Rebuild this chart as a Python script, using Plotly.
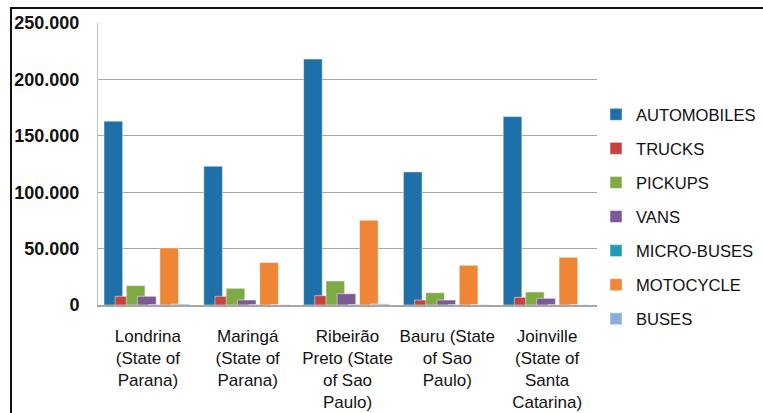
import plotly.graph_objects as go

cities = [
    "Londrina<br>(State of<br>Parana)",
    "Maringá<br>(State of<br>Parana)",
    "Ribeirão<br>Preto (State<br>of Sao<br>Paulo)",
    "Bauru (State<br>of Sao<br>Paulo)",
    "Joinville<br>(State of<br>Santa<br>Catarina)",
]
series_names = ["AUTOMOBILES", "TRUCKS", "PICKUPS", "VANS", "MICRO-BUSES", "MOTOCYCLE", "BUSES"]
automobiles = [163000, 123000, 218000, 118000, 167000]
trucks = [7700, 7700, 8300, 4400, 6800]
pickups = [17200, 14800, 21300, 10900, 11500]
vans = [7700, 4400, 10000, 4400, 5900]
micro_buses = [300, 200, 400, 200, 200]
motocycle = [50600, 37600, 75200, 35200, 42300]
buses = [900, 300, 1000, 300, 300]
series_values = [automobiles, trucks, pickups, vans, micro_buses, motocycle, buses]
colors = ["#1F70A9", "#C8423D", "#7FAA45", "#7D5A97", "#1E9CB5", "#F08536", "#8AADD9"]

FONT = "Liberation Sans"
bar_w = 0.187
step = 0.112
start = -0.44

PW, PH = 499, 282  # plot area size in px

fig = go.Figure()
for i, (name, vals, col) in enumerate(zip(series_names, series_values, colors)):
    fig.add_trace(go.Bar(
        x=cities, y=vals, name=name,
        marker=dict(color=col, line=dict(color="rgba(255,255,255,0.6)", width=0.8)),
        width=bar_w, offset=start + i * step,
        legendgroup=name,
    ))

fig.update_layout(
    width=763, height=413,
    barmode="overlay",
    separators=",.",
    paper_bgcolor="white", plot_bgcolor="white",
    margin=dict(l=98, r=166, t=23, b=108, autoexpand=False),
    font=dict(family=FONT, size=17, color="#111111"),
    showlegend=True,
    legend=dict(
        x=(596 - 98) / PW, xanchor="left", y=(305 - 217) / PH, yanchor="middle",
        font=dict(family=FONT, size=16.6, color="#111111"),
        tracegroupgap=9.5, itemwidth=30,
        bgcolor="rgba(0,0,0,0)",
    ),
    shapes=[
        dict(type="line", xref="paper", yref="paper",
             x0=(10 - 98) / PW, x1=(763 - 98) / PW, y0=(305 - 8) / PH, y1=(305 - 8) / PH,
             line=dict(color="#111111", width=2)),
        dict(type="line", xref="paper", yref="paper",
             x0=(11 - 98) / PW, x1=(11 - 98) / PW, y0=(305 - 8) / PH, y1=(305 - 420) / PH,
             line=dict(color="#111111", width=2)),
    ],
)
fig.update_yaxes(
    range=[0, 250000], tickvals=[0, 50000, 100000, 150000, 200000, 250000],
    tickformat=",d", showgrid=True, gridcolor="#A6A6A6", gridwidth=1,
    zeroline=False, showline=True, linecolor="#BFBFBF", linewidth=1,
    tickfont=dict(family=FONT, size=18, color="#111111", weight="bold"),
    ticklabelstandoff=14, automargin=False,
)
fig.update_xaxes(
    showline=True, linecolor="#A6A6A6", linewidth=1.5,
    tickfont=dict(family=FONT, size=17, color="#111111"),
    ticklabelstandoff=15, automargin=False,
)

fig.write_html("out.html")
